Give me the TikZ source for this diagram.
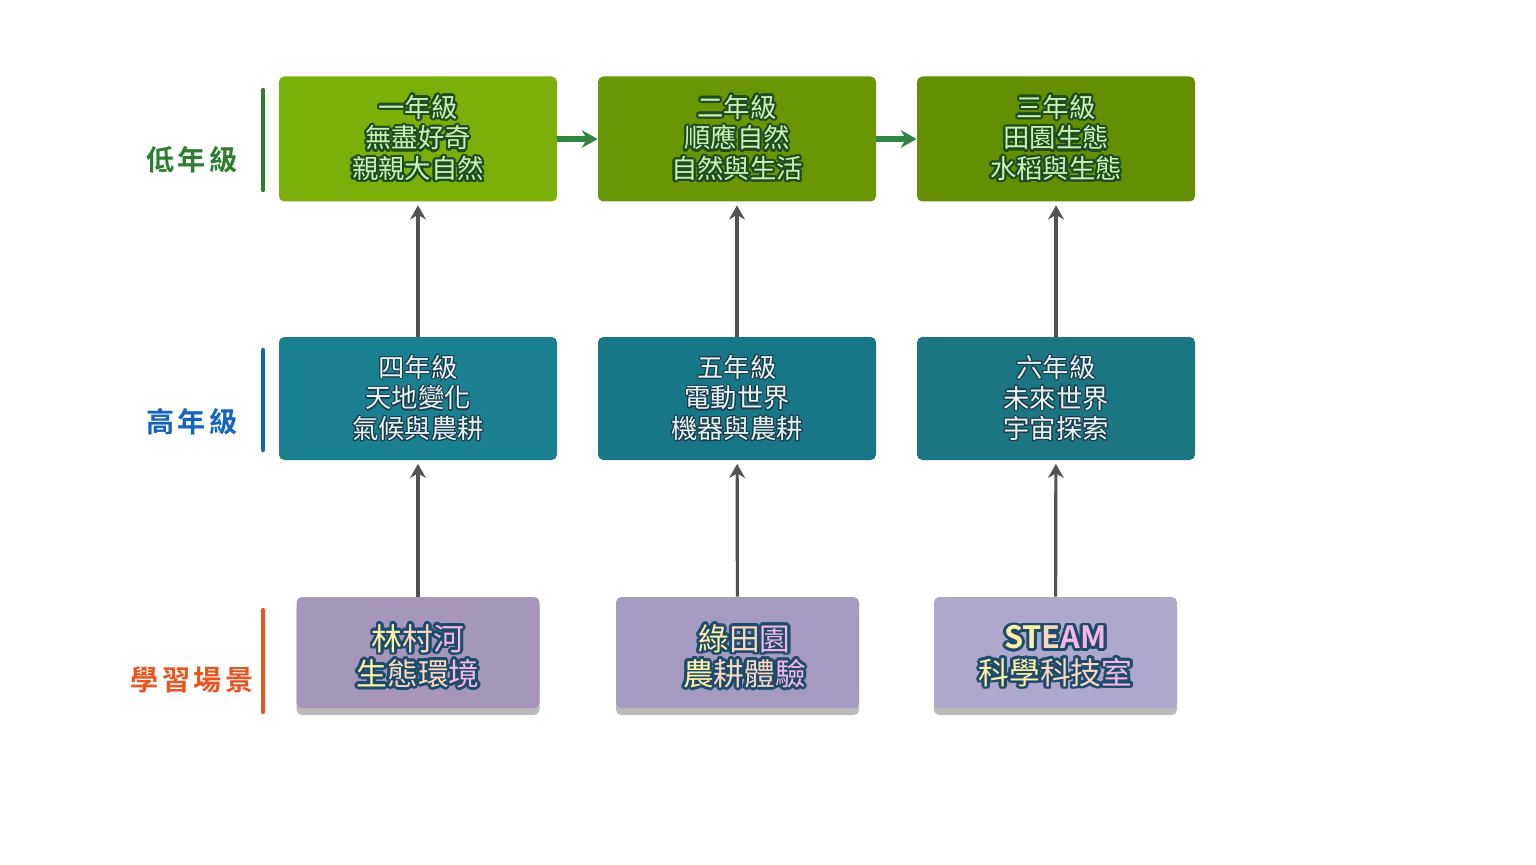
\documentclass[tikz,border=0pt]{standalone}
\usepackage{fontspec}
\usepackage{contour}
\usetikzlibrary{arrows.meta,shadows}
\newfontfamily\cjk{Noto Sans CJK TC}[BoldFont={* Bold}]
\newfontfamily\cjklabel{Noto Sans CJK TC}[BoldFont={* Bold},LetterSpace=12]

\definecolor{topA}{HTML}{7BAF0A}
\definecolor{topB}{HTML}{6A9505}
\definecolor{topC}{HTML}{658F02}
\definecolor{midA}{HTML}{1A7F8E}
\definecolor{midB}{HTML}{187786}
\definecolor{midC}{HTML}{1B7583}
\definecolor{botA}{HTML}{A697BA}
\definecolor{botB}{HTML}{A59AC0}
\definecolor{botC}{HTML}{AEA9CC}
\definecolor{topfill}{HTML}{CDF2B4}
\definecolor{topedge}{HTML}{1E4D22}
\definecolor{midfill}{HTML}{E6F6F8}
\definecolor{midedge}{HTML}{1D3B4A}
\definecolor{botedge}{HTML}{1D4B6C}
\definecolor{yel}{HTML}{FFF1A6}
\definecolor{peach}{HTML}{FAD7C0}
\definecolor{pink}{HTML}{F6B6E6}
\definecolor{flowgreen}{HTML}{2E8540}
\definecolor{lowgreen}{HTML}{2E7D32}
\definecolor{highblue}{HTML}{1565C0}
\definecolor{placered}{HTML}{EA5420}

\newcommand{\topline}[1]{{\contourlength{1.3pt}\textcolor{topfill}{\contour{topedge}{#1}}}}
\newcommand{\midline}[1]{{\contourlength{0.6pt}\textcolor{midfill}{\contour{midedge}{#1}}}}
% outline for the whole line, then the coloured letters on top
\newcommand{\botline}[2]{{\contourlength{1.6pt}\rlap{\color{botedge}\contour{botedge}{#1}}#2}}

\tikzset{
  grade/.style={rectangle, rounded corners=3pt, minimum width=5.56cm, minimum height=2.5cm,
    align=center, font=\cjk\fontsize{15}{17.5}\selectfont, inner sep=0pt},
  place/.style={rectangle, rounded corners=3pt, minimum width=4.86cm, minimum height=2.22cm,
    inner sep=0pt,
    drop shadow={shadow xshift=0pt, shadow yshift=-0.14cm, opacity=0.45, fill=black!60}},
  placetext/.style={align=center, font=\cjk\fontsize{17.5}{20}\selectfont, inner sep=0pt},
  flow/.style={-{Stealth[length=9pt,width=10pt]}, line width=3pt, flowgreen},
  lift/.style={-{Stealth[length=8pt,width=9pt]}, line width=1.8pt, black!68, shorten >=2pt},
  rowlabel/.style={font=\cjklabel\bfseries\fontsize{16}{18}\selectfont},
  rowbar/.style={line width=2.4pt, line cap=round}
}

\begin{document}
\begin{tikzpicture}
			%%%%% START %%%%%
			
			\useasboundingbox[fill=white] (0, 0) rectangle (30.72, 17.28);
			
			\node[grade, fill=topA] (g1) at (8.36, 14.5) {\topline{一年級}\\\topline{無盡好奇}\\\topline{親親大自然}};
			\node[grade, fill=topB] (g2) at (14.74, 14.5) {\topline{二年級}\\\topline{順應自然}\\\topline{自然與生活}};
			\node[grade, fill=topC] (g3) at (21.12, 14.5) {\topline{三年級}\\\topline{田園生態}\\\topline{水稻與生態}};
			
			\node[grade, fill=midA, minimum height=2.46cm] (g4) at (8.36, 9.31) {\midline{四年級}\\\midline{天地變化}\\\midline{氣候與農耕}};
			\node[grade, fill=midB, minimum height=2.46cm] (g5) at (14.74, 9.31) {\midline{五年級}\\\midline{電動世界}\\\midline{機器與農耕}};
			\node[grade, fill=midC, minimum height=2.46cm] (g6) at (21.12, 9.31) {\midline{六年級}\\\midline{未來世界}\\\midline{宇宙探索}};
			
			\node[place, fill=botA] (p1) at (8.36, 4.23) {};
			\node[place, fill=botB] (p2) at (14.75, 4.23) {};
			\node[place, fill=botC] (p3) at (21.11, 4.23) {};
			
			\node[placetext] (t1) at ([yshift=-0.1cm]p1.center) {\botline{林村河}{\textcolor{yel}{林}\textcolor{peach}{村}\textcolor{pink}{河}}\\
				\botline{生態環境}{\textcolor{yel}{生}\textcolor{peach}{態}\textcolor{peach}{環}\textcolor{pink}{境}}};
			\node[placetext] (t2) at ([xshift=0.14cm, yshift=-0.1cm]p2.center) {\botline{綠田園}{\textcolor{yel}{綠}\textcolor{peach}{田}\textcolor{pink}{園}}\\
				\botline{農耕體驗}{\textcolor{yel}{農}\textcolor{peach}{耕}\textcolor{peach}{體}\textcolor{pink}{驗}}};
			\node[placetext] (t3) at ([yshift=-0.1cm]p3.center) {\botline{\bfseries STEAM}{\bfseries\textcolor{yel}{ST}\textcolor{peach}{E}\textcolor{pink}{AM}}\\
				\botline{科學科技室}{\textcolor{yel}{科學}\textcolor{peach}{科技}\textcolor{pink}{室}}};
			
			\draw[flow] (g1) -- (g2);
			\draw[flow] (g2) -- (g3);
			
			\draw[lift] (p1) -- (g4);
			\draw[lift] (p2) -- (g5);
			\draw[lift] (p3) -- (g6);
			\draw[lift] (g4) -- (g1);
			\draw[lift] (g5) -- (g2);
			\draw[lift] (g6) -- (g3);
			
			\node[rowlabel, lowgreen] (low) at (3.84, 14.08) {低年級};
			\node[rowlabel, highblue] (high) at (3.84, 8.84) {高年級};
			\node[rowlabel, placered] (scene) at (3.84, 3.68) {學習場景};
			
			\draw[rowbar, lowgreen] (5.26, 15.48) -- (5.26, 13.48);
			\draw[rowbar, highblue] (5.26, 10.28) -- (5.26, 8.28);
			\draw[rowbar, placered] (5.26, 5.08) -- (5.26, 3.04);
			
			%%%%% END %%%%%
\end{tikzpicture}
\end{document}
